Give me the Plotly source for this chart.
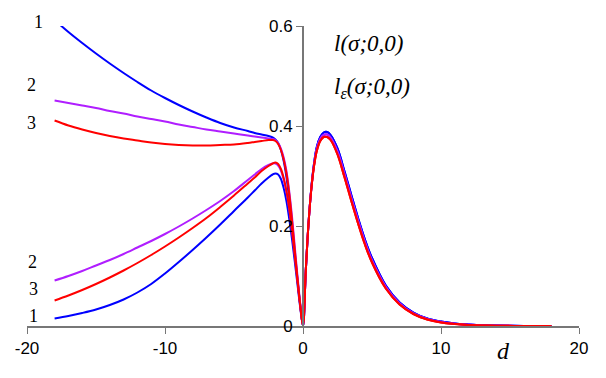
import plotly.graph_objects as go

# ---------------------------------------------
# Dati
# ---------------------------------------------
d_left = [-18, -17, -16, -15, -14, -13, -12, -11, -10, -9, -8, -7, -6, -5, -4,
          -3.5, -3, -2.5, -2.2, -2, -1.8, -1.6, -1.4, -1.2, -1.0, -0.8, -0.6,
          -0.4, -0.2]
d_right = [0, 0.2, 0.4, 0.6, 0.8, 1.0, 1.25, 1.5, 1.75, 2.0, 2.5, 3, 3.5, 4,
           4.5, 5, 6, 7, 8, 9, 10, 11, 12, 13, 14, 16, 18]

# curve superiori  l(sigma;0,0)
l_up_1 = [0.612, 0.588, 0.566, 0.545, 0.525, 0.506, 0.488, 0.471, 0.456, 0.442,
          0.429, 0.417, 0.406, 0.397, 0.390, 0.386, 0.383, 0.380, 0.377, 0.373,
          0.366, 0.352, 0.330, 0.298, 0.255, 0.203, 0.147, 0.093, 0.042]
l_up_2 = [0.451, 0.446, 0.441, 0.436, 0.430, 0.425, 0.419, 0.414, 0.409, 0.403,
          0.398, 0.393, 0.389, 0.385, 0.381, 0.379, 0.377, 0.375, 0.374, 0.372,
          0.366, 0.355, 0.337, 0.310, 0.270, 0.220, 0.160, 0.100, 0.045]
l_up_3 = [0.411, 0.401, 0.393, 0.386, 0.380, 0.375, 0.371, 0.367, 0.364, 0.362,
          0.361, 0.361, 0.362, 0.363, 0.366, 0.368, 0.370, 0.372, 0.372, 0.370,
          0.364, 0.352, 0.333, 0.305, 0.265, 0.212, 0.153, 0.095, 0.042]

# curve inferiori  l_eps(sigma;0,0)
l_lo_1 = [0.015, 0.020, 0.026, 0.033, 0.042, 0.053, 0.067, 0.084, 0.105, 0.128,
          0.152, 0.177, 0.203, 0.230, 0.257, 0.271, 0.285, 0.297, 0.303, 0.305,
          0.303, 0.294, 0.276, 0.250, 0.215, 0.175, 0.130, 0.083, 0.037]
l_lo_2 = [0.091, 0.100, 0.110, 0.121, 0.132, 0.144, 0.157, 0.170, 0.184, 0.199,
          0.215, 0.232, 0.250, 0.270, 0.292, 0.303, 0.314, 0.322, 0.325, 0.325,
          0.321, 0.311, 0.293, 0.268, 0.235, 0.192, 0.143, 0.092, 0.042]
l_lo_3 = [0.051, 0.061, 0.072, 0.084, 0.097, 0.111, 0.126, 0.142, 0.159, 0.177,
          0.196, 0.216, 0.238, 0.261, 0.285, 0.297, 0.310, 0.320, 0.325, 0.327,
          0.324, 0.314, 0.296, 0.270, 0.236, 0.192, 0.142, 0.090, 0.040]

# parte destra (d >= 0), una per colore
r_1 = [0, 0.110, 0.205, 0.275, 0.325, 0.358, 0.378, 0.387, 0.388, 0.382, 0.355,
       0.310, 0.262, 0.215, 0.172, 0.136, 0.081, 0.047, 0.027, 0.015, 0.009,
       0.005, 0.003, 0.0015, 0.0008, 0.0002, 0.0]
r_2 = [0, 0.110, 0.205, 0.274, 0.322, 0.354, 0.374, 0.382, 0.383, 0.377, 0.349,
       0.304, 0.256, 0.210, 0.167, 0.131, 0.078, 0.045, 0.025, 0.014, 0.008,
       0.0045, 0.0025, 0.0012, 0.0006, 0.0001, 0.0]
r_3 = [0, 0.110, 0.205, 0.273, 0.320, 0.350, 0.370, 0.378, 0.378, 0.372, 0.343,
       0.298, 0.250, 0.204, 0.162, 0.127, 0.075, 0.043, 0.024, 0.013, 0.007,
       0.004, 0.002, 0.001, 0.0005, 0.0001, 0.0]

x_ticks = [-20, -10, 0, 10, 20]
x_tick_text = ["-20", "-10", "0", "10", "20"]
y_ticks = [0, 0.2, 0.4, 0.6]
y_tick_text = ["0", "0.2", "0.4", "0.6"]

colors = {1: "#0000FF", 2: "#B01EFF", 3: "#FF0000"}
serif = "Liberation Serif, Times New Roman, serif"
sans = "Liberation Sans, Arial, sans-serif"

fig = go.Figure()

curves = [
    (1, l_up_1, l_lo_1, r_1),
    (2, l_up_2, l_lo_2, r_2),
    (3, l_up_3, l_lo_3, r_3),
]
for k, up, lo, right in curves:
    for left in (up, lo):
        fig.add_trace(go.Scatter(
            x=d_left + d_right,
            y=left + right,
            mode="lines",
            line=dict(color=colors[k], width=2, shape="spline", smoothing=1.0),
            showlegend=False,
            hoverinfo="skip",
        ))

# etichette numeriche a sinistra (y in coordinate "paper": 0 = asse, 1 = 0.6)
labels = [("1", -19.2, 1.012), ("2", -19.7, 0.802), ("3", -19.7, 0.675),
          ("2", -19.6, 0.215), ("3", -19.5, 0.125), ("1", -19.5, 0.035)]
for txt, x, y in labels:
    fig.add_annotation(x=x, y=y, xref="x", yref="paper", yanchor="middle",
                       text=txt, showarrow=False,
                       font=dict(family=serif, size=18, color="black"))

fig.add_annotation(x=2.1, y=0.565, xref="x", yref="y", xanchor="left",
                   text="<i>l(σ;0,0)</i>", showarrow=False,
                   font=dict(family=serif, size=23, color="black"))
fig.add_annotation(x=2.1, y=0.477, xref="x", yref="y", xanchor="left",
                   text="<i>l<sub>ε</sub>(σ;0,0)</i>", showarrow=False,
                   font=dict(family=serif, size=23, color="black"))
fig.add_annotation(x=14.5, y=-0.082, xref="x", yref="paper", yanchor="middle",
                   text="<i>d</i>", showarrow=False,
                   font=dict(family=serif, size=24, color="black"))

fig.update_layout(
    width=606, height=378,
    margin=dict(l=27, r=27, t=26, b=52),
    paper_bgcolor="white", plot_bgcolor="white",
    xaxis=dict(range=[-20, 20], tickvals=x_ticks, ticktext=x_tick_text,
               ticks="outside", ticklen=6,
               tickcolor="#777777", showline=True, linecolor="#777777",
               linewidth=2, showgrid=False, zeroline=False, automargin=False,
               tickfont=dict(family=sans, size=17, color="black")),
    yaxis=dict(range=[0, 0.6], tickvals=y_ticks, ticktext=y_tick_text,
               ticks="outside", ticklen=6, tickcolor="#777777", showline=True,
               linecolor="#777777", linewidth=2, showgrid=False, zeroline=False,
               anchor="free", position=0.5, automargin=False,
               tickfont=dict(family=sans, size=17, color="black")),
)

# niente margine del body, così il grafico parte dall'angolo in alto a sinistra
fig.write_html("out.html", config={"displayModeBar": False},
               post_script="document.body.style.margin='0';")
